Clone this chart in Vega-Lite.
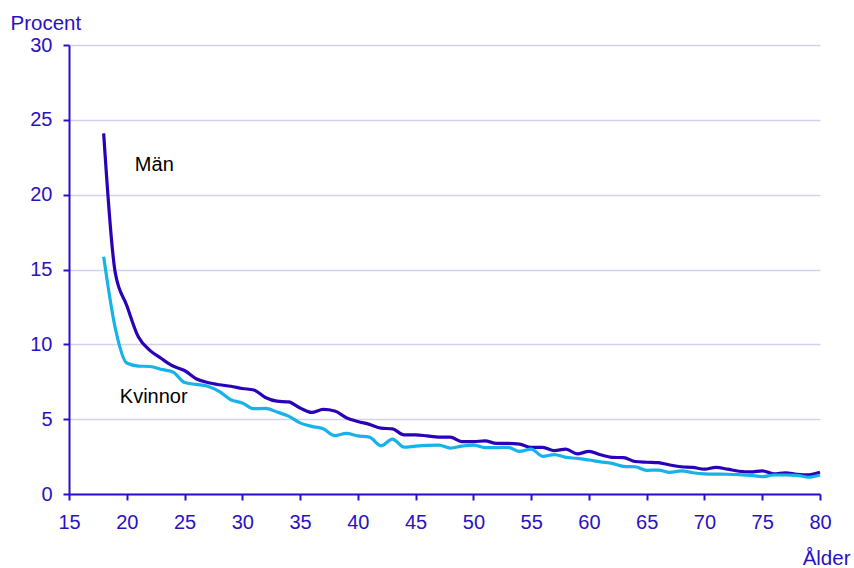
{
  "$schema": "https://vega.github.io/schema/vega-lite/v6.json",
  "width": 751,
  "height": 449,
  "autosize": {"type": "none"},
  "padding": {"left": 69, "top": 45, "right": 34, "bottom": 74},
  "background": "white",
  "config": {
    "view": {"stroke": null},
    "font": "Liberation Sans",
    "axis": {
      "labelFont": "Liberation Sans",
      "titleFont": "Liberation Sans",
      "labelFontSize": 20,
      "titleFontSize": 20.5,
      "labelColor": "#2a10c4",
      "titleColor": "#2a10c4",
      "titleFontWeight": "normal",
      "domainColor": "#2a10c4",
      "domainWidth": 2,
      "tickColor": "#2a10c4",
      "tickWidth": 2,
      "tickSize": 6,
      "labelFlush": false,
      "labelOverlap": false
    }
  },
  "datasets": {
    "series": [
      {"alder": 18, "kon": "Män", "procent": 24.1},
      {"alder": 19, "kon": "Män", "procent": 14.8},
      {"alder": 20, "kon": "Män", "procent": 12.6},
      {"alder": 21, "kon": "Män", "procent": 10.5},
      {"alder": 22, "kon": "Män", "procent": 9.6},
      {"alder": 23, "kon": "Män", "procent": 9.05},
      {"alder": 24, "kon": "Män", "procent": 8.55},
      {"alder": 25, "kon": "Män", "procent": 8.25},
      {"alder": 26, "kon": "Män", "procent": 7.7},
      {"alder": 27, "kon": "Män", "procent": 7.45},
      {"alder": 28, "kon": "Män", "procent": 7.3},
      {"alder": 29, "kon": "Män", "procent": 7.2},
      {"alder": 30, "kon": "Män", "procent": 7.05},
      {"alder": 31, "kon": "Män", "procent": 6.95},
      {"alder": 32, "kon": "Män", "procent": 6.45},
      {"alder": 33, "kon": "Män", "procent": 6.2},
      {"alder": 34, "kon": "Män", "procent": 6.15},
      {"alder": 35, "kon": "Män", "procent": 5.75},
      {"alder": 36, "kon": "Män", "procent": 5.45},
      {"alder": 37, "kon": "Män", "procent": 5.65},
      {"alder": 38, "kon": "Män", "procent": 5.55},
      {"alder": 39, "kon": "Män", "procent": 5.1},
      {"alder": 40, "kon": "Män", "procent": 4.85},
      {"alder": 41, "kon": "Män", "procent": 4.65},
      {"alder": 42, "kon": "Män", "procent": 4.4},
      {"alder": 43, "kon": "Män", "procent": 4.35},
      {"alder": 44, "kon": "Män", "procent": 3.95},
      {"alder": 45, "kon": "Män", "procent": 3.95},
      {"alder": 46, "kon": "Män", "procent": 3.88},
      {"alder": 47, "kon": "Män", "procent": 3.8},
      {"alder": 48, "kon": "Män", "procent": 3.8},
      {"alder": 49, "kon": "Män", "procent": 3.5},
      {"alder": 50, "kon": "Män", "procent": 3.5},
      {"alder": 51, "kon": "Män", "procent": 3.55},
      {"alder": 52, "kon": "Män", "procent": 3.38},
      {"alder": 53, "kon": "Män", "procent": 3.38},
      {"alder": 54, "kon": "Män", "procent": 3.33},
      {"alder": 55, "kon": "Män", "procent": 3.12},
      {"alder": 56, "kon": "Män", "procent": 3.12},
      {"alder": 57, "kon": "Män", "procent": 2.9},
      {"alder": 58, "kon": "Män", "procent": 3.0},
      {"alder": 59, "kon": "Män", "procent": 2.68},
      {"alder": 60, "kon": "Män", "procent": 2.85},
      {"alder": 61, "kon": "Män", "procent": 2.62},
      {"alder": 62, "kon": "Män", "procent": 2.45},
      {"alder": 63, "kon": "Män", "procent": 2.43},
      {"alder": 64, "kon": "Män", "procent": 2.17},
      {"alder": 65, "kon": "Män", "procent": 2.12},
      {"alder": 66, "kon": "Män", "procent": 2.09},
      {"alder": 67, "kon": "Män", "procent": 1.94},
      {"alder": 68, "kon": "Män", "procent": 1.82},
      {"alder": 69, "kon": "Män", "procent": 1.78},
      {"alder": 70, "kon": "Män", "procent": 1.66},
      {"alder": 71, "kon": "Män", "procent": 1.78},
      {"alder": 72, "kon": "Män", "procent": 1.66},
      {"alder": 73, "kon": "Män", "procent": 1.52},
      {"alder": 74, "kon": "Män", "procent": 1.48},
      {"alder": 75, "kon": "Män", "procent": 1.55},
      {"alder": 76, "kon": "Män", "procent": 1.35},
      {"alder": 77, "kon": "Män", "procent": 1.42},
      {"alder": 78, "kon": "Män", "procent": 1.32},
      {"alder": 79, "kon": "Män", "procent": 1.28},
      {"alder": 80, "kon": "Män", "procent": 1.45},
      {"alder": 18, "kon": "Kvinnor", "procent": 15.85},
      {"alder": 19, "kon": "Kvinnor", "procent": 11.1},
      {"alder": 20, "kon": "Kvinnor", "procent": 8.75},
      {"alder": 21, "kon": "Kvinnor", "procent": 8.55},
      {"alder": 22, "kon": "Kvinnor", "procent": 8.52},
      {"alder": 23, "kon": "Kvinnor", "procent": 8.33},
      {"alder": 24, "kon": "Kvinnor", "procent": 8.15},
      {"alder": 25, "kon": "Kvinnor", "procent": 7.45},
      {"alder": 26, "kon": "Kvinnor", "procent": 7.32},
      {"alder": 27, "kon": "Kvinnor", "procent": 7.2},
      {"alder": 28, "kon": "Kvinnor", "procent": 6.85},
      {"alder": 29, "kon": "Kvinnor", "procent": 6.3},
      {"alder": 30, "kon": "Kvinnor", "procent": 6.08},
      {"alder": 31, "kon": "Kvinnor", "procent": 5.7},
      {"alder": 32, "kon": "Kvinnor", "procent": 5.72},
      {"alder": 33, "kon": "Kvinnor", "procent": 5.48},
      {"alder": 34, "kon": "Kvinnor", "procent": 5.2},
      {"alder": 35, "kon": "Kvinnor", "procent": 4.75},
      {"alder": 36, "kon": "Kvinnor", "procent": 4.52},
      {"alder": 37, "kon": "Kvinnor", "procent": 4.36},
      {"alder": 38, "kon": "Kvinnor", "procent": 3.9},
      {"alder": 39, "kon": "Kvinnor", "procent": 4.05},
      {"alder": 40, "kon": "Kvinnor", "procent": 3.88},
      {"alder": 41, "kon": "Kvinnor", "procent": 3.8},
      {"alder": 42, "kon": "Kvinnor", "procent": 3.22},
      {"alder": 43, "kon": "Kvinnor", "procent": 3.67},
      {"alder": 44, "kon": "Kvinnor", "procent": 3.13},
      {"alder": 45, "kon": "Kvinnor", "procent": 3.2},
      {"alder": 46, "kon": "Kvinnor", "procent": 3.25},
      {"alder": 47, "kon": "Kvinnor", "procent": 3.27},
      {"alder": 48, "kon": "Kvinnor", "procent": 3.07},
      {"alder": 49, "kon": "Kvinnor", "procent": 3.2},
      {"alder": 50, "kon": "Kvinnor", "procent": 3.27},
      {"alder": 51, "kon": "Kvinnor", "procent": 3.1},
      {"alder": 52, "kon": "Kvinnor", "procent": 3.1},
      {"alder": 53, "kon": "Kvinnor", "procent": 3.12},
      {"alder": 54, "kon": "Kvinnor", "procent": 2.85},
      {"alder": 55, "kon": "Kvinnor", "procent": 3.0},
      {"alder": 56, "kon": "Kvinnor", "procent": 2.52},
      {"alder": 57, "kon": "Kvinnor", "procent": 2.63},
      {"alder": 58, "kon": "Kvinnor", "procent": 2.45},
      {"alder": 59, "kon": "Kvinnor", "procent": 2.38},
      {"alder": 60, "kon": "Kvinnor", "procent": 2.27},
      {"alder": 61, "kon": "Kvinnor", "procent": 2.15},
      {"alder": 62, "kon": "Kvinnor", "procent": 2.05},
      {"alder": 63, "kon": "Kvinnor", "procent": 1.85},
      {"alder": 64, "kon": "Kvinnor", "procent": 1.82},
      {"alder": 65, "kon": "Kvinnor", "procent": 1.58},
      {"alder": 66, "kon": "Kvinnor", "procent": 1.6},
      {"alder": 67, "kon": "Kvinnor", "procent": 1.45},
      {"alder": 68, "kon": "Kvinnor", "procent": 1.54},
      {"alder": 69, "kon": "Kvinnor", "procent": 1.42},
      {"alder": 70, "kon": "Kvinnor", "procent": 1.35},
      {"alder": 71, "kon": "Kvinnor", "procent": 1.33},
      {"alder": 72, "kon": "Kvinnor", "procent": 1.32},
      {"alder": 73, "kon": "Kvinnor", "procent": 1.29},
      {"alder": 74, "kon": "Kvinnor", "procent": 1.25},
      {"alder": 75, "kon": "Kvinnor", "procent": 1.16},
      {"alder": 76, "kon": "Kvinnor", "procent": 1.27},
      {"alder": 77, "kon": "Kvinnor", "procent": 1.27},
      {"alder": 78, "kon": "Kvinnor", "procent": 1.25},
      {"alder": 79, "kon": "Kvinnor", "procent": 1.12},
      {"alder": 80, "kon": "Kvinnor", "procent": 1.27}
    ],
    "labels": [
      {"alder": 20.7, "procent": 22.0, "label": "Män"},
      {"alder": 19.4, "procent": 6.5, "label": "Kvinnor"}
    ]
  },
  "layer": [
    {
      "data": {"name": "series"},
      "mark": {"type": "line", "interpolate": "monotone", "strokeWidth": 3.2},
      "encoding": {
        "x": {
          "field": "alder",
          "type": "quantitative",
          "scale": {"domain": [15, 80], "nice": false, "zero": false},
          "axis": {
            "values": [15, 20, 25, 30, 35, 40, 45, 50, 55, 60, 65, 70, 75, 80],
            "grid": false,
            "labelPadding": 12,
            "title": "Ålder",
            "titleAnchor": null,
            "titleAlign": "right",
            "titleBaseline": "alphabetic",
            "titleX": 781,
            "titleY": 70
          }
        },
        "y": {
          "field": "procent",
          "type": "quantitative",
          "scale": {"domain": [0, 30], "nice": false},
          "axis": {
            "values": [0, 5, 10, 15, 20, 25, 30],
            "grid": true,
            "gridColor": "#d2d2f0",
            "gridWidth": 1.5,
            "labelPadding": 11,
            "title": "Procent",
            "titleAngle": 0,
            "titleAlign": "left",
            "titleBaseline": "alphabetic",
            "titleX": -59,
            "titleY": -16
          }
        },
        "color": {
          "field": "kon",
          "type": "nominal",
          "scale": {"domain": ["Män", "Kvinnor"], "range": ["#2a00b8", "#18b2ea"]},
          "legend": null
        }
      }
    },
    {
      "data": {"name": "labels"},
      "mark": {"type": "text", "align": "left", "baseline": "middle", "fontSize": 20, "color": "#000000", "font": "Liberation Sans"},
      "encoding": {
        "x": {"field": "alder", "type": "quantitative"},
        "y": {"field": "procent", "type": "quantitative"},
        "text": {"field": "label"}
      }
    }
  ]
}
